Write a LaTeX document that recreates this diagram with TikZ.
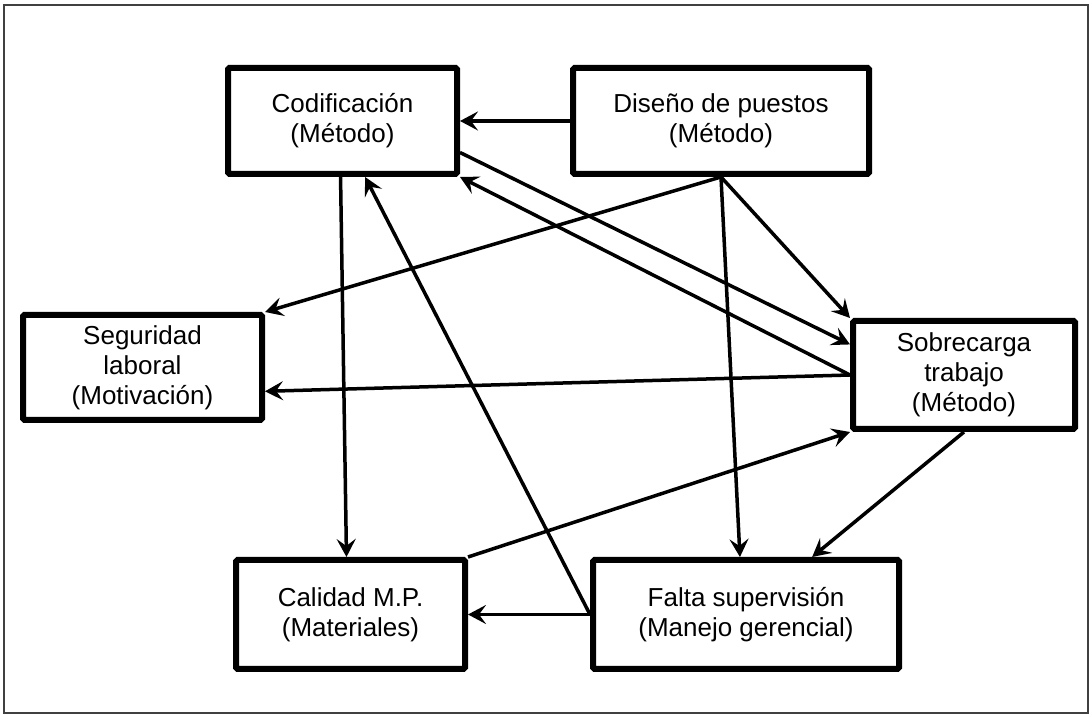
\documentclass[tikz,border=0pt]{standalone}
\usepackage{fontspec}
\setmainfont{Liberation Sans}
\usetikzlibrary{arrows.meta}

\begin{document}
\begin{tikzpicture}[x=1pt,y=1pt,
  box/.style={draw, line width=6pt, rounded corners=1.5pt, align=center,
    inner sep=0pt, font=\fontsize{26}{30}\selectfont},
  link/.style={line width=3.5pt, -{Stealth[length=18pt,width=19pt,inset=7pt]}}]
\useasboundingbox (0.000000, 0.000000) rectangle (1090.000000, 714.000000);
% Drawing frame
\draw[color=black!75, line width=1.5pt] (4.000000, 1.000000) rectangle (1088.000000, 709.000000);
% Drawing boxes
% Box 1: cod
\node[box, minimum width=229pt, minimum height=106pt] (cod) at (342.500000, 593.000000) {Codificación\\(Método)};
% Box 2: dis
\node[box, minimum width=296pt, minimum height=106pt] (dis) at (721.000000, 593.000000) {Diseño de puestos\\(Método)};
% Box 3: seg
\node[box, minimum width=239pt, minimum height=105pt] (seg) at (142.500000, 346.500000) {Seguridad\\laboral\\(Motivación)};
% Box 4: sob
\node[box, minimum width=222pt, minimum height=108pt] (sob) at (964.000000, 339.000000) {Sobrecarga\\trabajo\\(Método)};
% Box 5: cal
\node[box, minimum width=229pt, minimum height=109pt] (cal) at (350.500000, 99.500000) {Calidad M.P.\\(Materiales)};
% Box 6: fal
\node[box, minimum width=306pt, minimum height=109pt] (fal) at (746.000000, 99.500000) {Falta supervisión\\(Manejo gerencial)};
% Done with boxes; drawing arrows
% Arrow 1: dis cod
\draw[link] (dis.west) -- (cod.east);
% Arrow 2: cod sob
\draw[link] (cod.-15) -- (sob.165);
% Arrow 3: sob cod
\draw[link] (sob.west) -- (cod.south east);
% Arrow 4: dis seg
\draw[link] (dis.south) -- (seg.north east);
% Arrow 5: dis sob
\draw[link] (dis.south) -- (sob.north west);
% Arrow 6: dis fal
\draw[link] (dis.south) -- (fal.96);
% Arrow 7: sob seg
\draw[link] (sob.west) -- (seg.-11);
% Arrow 8: cod cal
\draw[link] (cod.-92) -- (cal.94);
% Arrow 9: fal cod
\draw[link] (fal.west) -- (cod.-68);
% Arrow 10: cal sob
\draw[link] (cal.north east) -- (sob.south west);
% Arrow 11: sob fal
\draw[link] (sob.south) -- (fal.41);
% Arrow 12: fal cal
\draw[link] (fal.west) -- (cal.east);
% Done with arrows
\end{tikzpicture}
\end{document}
